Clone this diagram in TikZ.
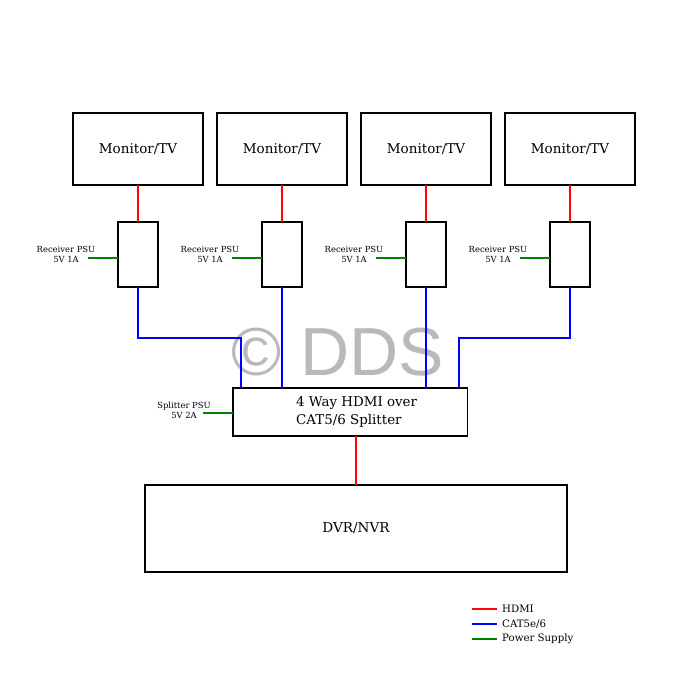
\documentclass[tikz,border=0pt]{standalone}
\usepackage{fontspec}
\setmainfont{DejaVu Serif}
\newfontfamily\wmfont{Liberation Sans}
\definecolor{hdmi}{RGB}{255,0,0}
\definecolor{cat}{RGB}{0,0,255}
\definecolor{psu}{RGB}{0,128,0}
\definecolor{wm}{RGB}{185,185,185}
\begin{document}
\begin{tikzpicture}[x=1pt,y=-1pt,
  box/.style={draw=black,line width=1.1pt,inner sep=0pt,outer sep=0pt},
  mon/.style={box,minimum width=130pt,minimum height=72pt,font=\fontsize{13.5}{16}\selectfont},
  rx/.style={box,minimum width=40pt,minimum height=65pt},
  lbl/.style={font=\fontsize{8.4}{10}\selectfont,align=center,inner sep=0pt},
  hd/.style={draw=hdmi,line width=1.2pt},
  ct/.style={draw=cat,line width=1.2pt},
  ps/.style={draw=psu,line width=1.2pt},
  leg/.style={font=\fontsize{10.2}{12}\selectfont,anchor=west,inner sep=0pt}]
\useasboundingbox (0,0) rectangle (700,700);
\fill[white] (0,0) rectangle (700,700);
% watermark
\node[text=wm,font=\wmfont\fontsize{68}{70}\selectfont,inner sep=0pt] (wmk) at (338,352) {© DDS};
% monitors
\foreach \i/\x in {1/138,2/282,3/426,4/570}{
  \node[mon] (m\i) at (\x,149) {Monitor/TV};
  \node[rx] (r\i) at (\x,254.5) {};
  \coordinate (p\i) at (\x-50,258);
  \node[lbl,anchor=center] (pl\i) at (\x-72,254.5) {Receiver PSU\\5V 1A};
  \draw[hd] (m\i.south) -- (r\i.north);
  \draw[ps] (p\i) -- (r\i.west |- p\i);
}
% splitter
\node[box,minimum width=234.5pt,minimum height=48pt] (sp) at (350.25,412) {};
\node[font=\fontsize{13.4}{18}\selectfont,align=left,inner sep=0pt,anchor=west] (spt) at (296,412) {4 Way HDMI over\\CAT5/6 Splitter};
\coordinate (sps) at (203,413);
\node[lbl] (spl) at (184,410.5) {Splitter PSU\\5V 2A};
\draw[ps] (sps) -- (sp.west |- sps);
% DVR
\node[box,minimum width=422pt,minimum height=87pt,font=\fontsize{13.6}{16}\selectfont] (dvr) at (356,528.5) {DVR/NVR};
\coordinate (spb) at (356,436);
\draw[hd] (spb) -- (dvr.north);
% CAT lines
\coordinate (c1) at (241,338);
\coordinate (c4) at (459,338);
\draw[ct] (r1.south) |- (c1) -- (c1 |- sp.north);
\draw[ct] (r2.south) -- (r2.south |- sp.north);
\draw[ct] (r3.south) -- (r3.south |- sp.north);
\draw[ct] (r4.south) |- (c4) -- (c4 |- sp.north);
% legend
\foreach \n/\y/\c/\t in {1/609/hdmi/{HDMI},2/624/cat/{CAT5e/6},3/639/psu/{Power Supply}}{
  \coordinate (la\n) at (472,\y);
  \coordinate (lb\n) at (497,\y);
  \draw[draw=\c,line width=1.2pt] (la\n) -- (lb\n);
  \node[leg] (lt\n) at (502,\y) {\t};
}
\end{tikzpicture}
\end{document}
